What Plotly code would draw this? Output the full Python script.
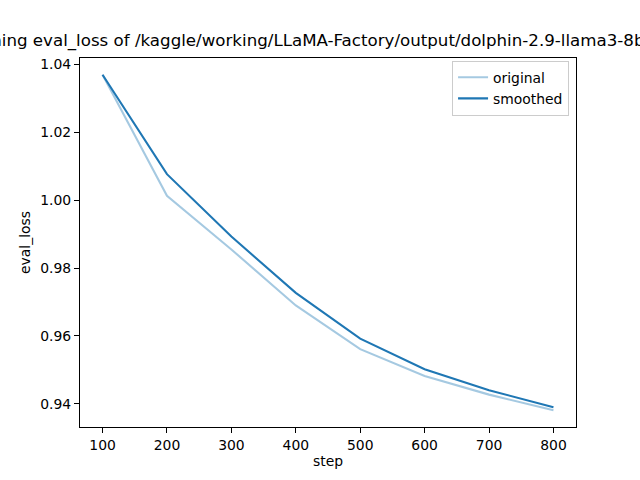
import plotly.graph_objects as go

steps = [100, 200, 300, 400, 500, 600, 700, 800]
original = [1.0370, 1.0013, 0.9855, 0.9690, 0.9561, 0.9482, 0.9427, 0.9381]
smoothed = [1.0370, 1.0077, 0.9893, 0.9727, 0.9592, 0.9502, 0.9440, 0.9390]
y_ticks = [0.94, 0.96, 0.98, 1.00, 1.02, 1.04]
x_ticks = [100, 200, 300, 400, 500, 600, 700, 800]
title_text = "training eval_loss of /kaggle/working/LLaMA-Factory/output/dolphin-2.9-llama3-8b"

FONT = "DejaVu Sans"

fig = go.Figure()
fig.add_trace(go.Scatter(x=steps, y=original, mode="lines", name="original",
                         line=dict(color="rgba(31,119,180,0.4)", width=2.08)))
fig.add_trace(go.Scatter(x=steps, y=smoothed, mode="lines", name="smoothed",
                         line=dict(color="#1f77b4", width=2.08)))

span_x = max(steps) - min(steps)
all_y = original + smoothed
span_y = max(all_y) - min(all_y)

axis_common = dict(showline=True, mirror=True, linecolor="black", linewidth=1,
                   ticks="outside", ticklen=5, tickwidth=1, tickcolor="black",
                   showgrid=False, zeroline=False,
                   tickfont=dict(family=FONT, size=13.9, color="black"))

fig.update_layout(
    width=640, height=480,
    margin=dict(l=80, r=64, t=58, b=53, pad=0),
    paper_bgcolor="white", plot_bgcolor="white",
    font=dict(family=FONT, size=13.9, color="black"),
    xaxis=dict(range=[min(steps) - 0.05 * span_x, max(steps) + 0.05 * span_x],
               tickvals=x_ticks,
               title=dict(text="step", font=dict(family=FONT, size=13.9), standoff=4),
               **axis_common),
    yaxis=dict(range=[min(all_y) - 0.05 * span_y, max(all_y) + 0.05 * span_y],
               tickvals=y_ticks, tickformat=".2f",
               title=dict(text="eval_loss", font=dict(family=FONT, size=13.9), standoff=6),
               **axis_common),
    legend=dict(x=0.986, y=0.9925, xanchor="right", yanchor="top",
                bgcolor="rgba(255,255,255,0.8)", bordercolor="#cccccc", borderwidth=1,
                tracegroupgap=0,
                font=dict(family=FONT, size=13.9)),
    showlegend=True,
)

fig.add_annotation(text=title_text, xref="paper", yref="paper",
                   x=(646 - 80) / 496, y=1, xanchor="right", yanchor="bottom",
                   yshift=5, showarrow=False,
                   font=dict(family=FONT, size=16.67, color="black"))

fig.write_html("out.html")
